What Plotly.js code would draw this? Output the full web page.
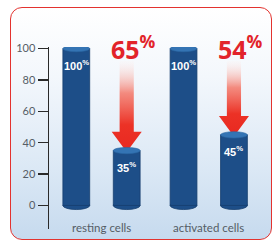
<!DOCTYPE html>
<html>
<head>
<meta charset="utf-8">
<script src="https://cdn.plot.ly/plotly-3.0.1.min.js"></script>
<style>
  html, body { margin: 0; padding: 0; background: #ffffff; }
  #wrap { position: relative; width: 275px; height: 246px; overflow: hidden; }
  #card {
    position: absolute; left: 10px; top: 7px; width: 260px; height: 231px;
    border: 1.5px solid #e3332f; border-radius: 12px;
    background: linear-gradient(to bottom, #ffffff 0%, #f3f7fc 30%, #dbe8f5 70%, #c6daee 100%);
  }
  #chart { position: absolute; left: 0; top: 0; width: 275px; height: 246px; }
</style>
</head>
<body>
<div id="wrap">
  <div id="card"></div>
  <div id="chart"></div>
</div>
<script>
// ---- data ----
const categories = ['resting cells', 'activated cells'];
const before = [100, 100];
const after = [35, 45];
const reduction = [65, 54];
const yTickVals = [0, 20, 40, 60, 80, 100];
const yTickText = ['0', '20', '40', '60', '80', '100'];

// ---- style ----
const barBlue = '#1d4e88';
const capBlue = '#3474b4';
const red = '#e2232a';
const barW = 0.25;
const offBefore = -0.36;
const offAfter = 0.11;
const capHalf = 2;
const xIdx = categories.map((c, i) => i);

const traces = [
  {
    type: 'bar', x: xIdx, y: before, width: barW, offset: offBefore,
    marker: { color: barBlue, line: { color: '#163f6f', width: 0.8 } },
    hoverinfo: 'skip', showlegend: false
  },
  {
    type: 'bar', x: xIdx, y: after, width: barW, offset: offAfter,
    marker: { color: barBlue, line: { color: '#163f6f', width: 0.8 } },
    hoverinfo: 'skip', showlegend: false
  }
];

// arrows from above down to the reduced bar
const arrowTop = 92;
const headH = 13;
const shaftHalf = 0.066;
const headHalf = 0.14;
xIdx.forEach((i) => {
  const cx = i + offAfter + barW / 2;
  const tip = after[i] - 1;
  const hb = tip + headH;
  traces.push({
    type: 'scatter', mode: 'lines',
    x: [cx - shaftHalf, cx + shaftHalf, cx + shaftHalf, cx + headHalf, cx, cx - headHalf, cx - shaftHalf, cx - shaftHalf],
    y: [arrowTop, arrowTop, hb, hb, tip, hb, hb, arrowTop],
    fill: 'toself',
    line: { width: 0, color: 'rgba(0,0,0,0)' },
    fillgradient: {
      type: 'vertical',
      colorscale: [[0, '#e82820'], [0.3, '#ec3226'], [0.65, 'rgba(244,120,105,0.85)'], [1, 'rgba(255,236,232,0.15)']]
    },
    hoverinfo: 'skip', showlegend: false
  });
});

const shapes = [];
const annotations = [];
[[before, offBefore], [after, offAfter]].forEach(([vals, off]) => {
  vals.forEach((v, i) => {
    const x0 = i + off, x1 = i + off + barW;
    // bottom rounded cap
    shapes.push({ type: 'circle', xref: 'x', yref: 'y', x0, x1, y0: -2.6, y1: 2.6,
      fillcolor: barBlue, line: { width: 0.8, color: '#163f6f' }, layer: 'below' });
    // top cap
    shapes.push({ type: 'circle', xref: 'x', yref: 'y', x0, x1, y0: v - capHalf, y1: v + capHalf,
      fillcolor: capBlue, line: { width: 0.6, color: '#2a66a3' }, layer: 'above' });
    annotations.push({
      x: (x0 + x1) / 2, y: v, xref: 'x', yref: 'y', yshift: -16,
      text: '<b>' + v + '<sup>%</sup></b>', showarrow: false,
      font: { family: 'Liberation Sans, Arial, sans-serif', size: 11, color: '#ffffff' }
    });
  });
});

xIdx.forEach((i) => {
  annotations.push({
    x: i + offAfter + barW / 2 + 0.06, y: 101, xref: 'x', yref: 'y',
    text: '<b>' + reduction[i] + '<sup>%</sup></b>', showarrow: false,
    font: { family: 'Open Sans, sans-serif', size: 25, color: red }
  });
  annotations.push({
    x: i, y: -14, xref: 'x', yref: 'y',
    text: categories[i], showarrow: false,
    font: { family: 'Lato, sans-serif', size: 11.5, color: '#555d66' }
  });
});

const layout = {
  width: 275, height: 246,
  margin: { l: 49, r: 10, t: 47, b: 16.5, pad: 0 },
  paper_bgcolor: 'rgba(0,0,0,0)', plot_bgcolor: 'rgba(0,0,0,0)',
  showlegend: false,
  xaxis: {
    range: [-0.4895, 1.5245], showgrid: false, zeroline: false,
    showline: false, showticklabels: false, ticks: '', fixedrange: true
  },
  yaxis: {
    range: [-15, 101], tickvals: yTickVals, ticktext: yTickText,
    showgrid: false, zeroline: false, showline: true, linecolor: '#2a2a2a', linewidth: 1.5,
    ticks: 'outside', ticklen: 10, tickwidth: 1.5, tickcolor: '#2a2a2a',
    tickfont: { family: 'Lato, sans-serif', size: 11, color: '#555d66' },
    fixedrange: true
  },
  shapes, annotations
};

Plotly.newPlot('chart', traces, layout, { displayModeBar: false, staticPlot: true });
</script>
</body>
</html>
